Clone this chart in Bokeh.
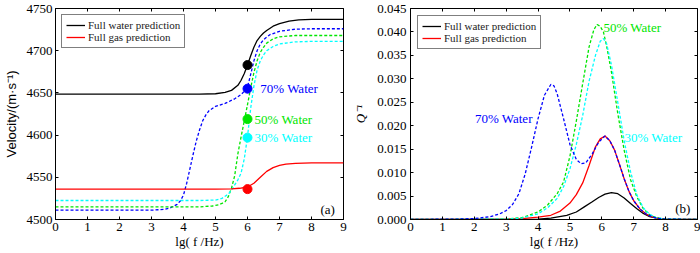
from bokeh.plotting import figure
from bokeh.layouts import row
from bokeh.models import FixedTicker, LinearAxis, Label, Range1d, PrintfTickFormatter
from bokeh.embed import file_html
from bokeh.resources import INLINE

# ---------------- data: panel (a) velocity ----------------
x_ticks = [0, 1, 2, 3, 4, 5, 6, 7, 8, 9]
vel_ticks = [4500, 4550, 4600, 4650, 4700, 4750]
q_ticks = [0.0, 0.005, 0.010, 0.015, 0.020, 0.025, 0.030, 0.035, 0.040, 0.045]

vw_x = [0, 4.5, 5.0, 5.3, 5.5, 5.7, 5.8, 5.9, 6.0, 6.1, 6.2, 6.3, 6.4, 6.5, 6.6, 6.8, 7.0, 7.3, 7.6, 8, 9]
vw_y = [4648.5, 4648.5, 4649, 4650.5, 4653, 4659, 4665, 4673, 4683, 4694, 4704, 4712, 4717, 4721, 4724,
        4729, 4732, 4735, 4736.5, 4737, 4737]

vg_x = [0, 5, 5.5, 5.75, 6.0, 6.2, 6.4, 6.6, 6.8, 7.0, 7.2, 7.5, 8, 9]
vg_y = [4536, 4536, 4536.3, 4537, 4538.5, 4543, 4550, 4557, 4561.5, 4564, 4565.5, 4566.5, 4567, 4567]

v70_x = [0, 3.0, 3.4, 3.6, 3.8, 3.9, 4.0, 4.1, 4.2, 4.3, 4.4, 4.5, 4.6, 4.7, 4.8, 5.0, 5.3, 5.6, 5.8,
         5.9, 6.0, 6.1, 6.2, 6.3, 6.4, 6.5, 6.7, 7.0, 7.5, 8, 9]
v70_y = [4511, 4511, 4512, 4514, 4518, 4522, 4529, 4543, 4560, 4577, 4593, 4606, 4617, 4624, 4629, 4634,
         4637.5, 4643, 4648, 4652, 4657, 4672, 4688, 4700, 4708, 4713, 4719, 4723, 4725.5, 4726, 4726]

v50_x = [0, 4.5, 4.9, 5.1, 5.2, 5.3, 5.4, 5.5, 5.6, 5.7, 5.8, 5.9, 6.0, 6.1, 6.2, 6.3, 6.4, 6.5, 6.6,
         6.8, 7.0, 7.5, 8, 9]
v50_y = [4515, 4515, 4516, 4517.5, 4519, 4521, 4527, 4537, 4552, 4578, 4598, 4617, 4636, 4656, 4674,
         4688, 4698, 4704, 4709, 4714, 4716.5, 4718, 4718, 4718]

v30_x = [0, 4.5, 5.0, 5.2, 5.4, 5.5, 5.6, 5.7, 5.8, 5.9, 6.0, 6.1, 6.2, 6.3, 6.4, 6.5, 6.6, 6.8, 7.0,
         7.5, 8, 9]
v30_y = [4522.5, 4522.5, 4523, 4525, 4530, 4535, 4541, 4547, 4555, 4572, 4598, 4632, 4658, 4677, 4688,
         4695, 4700, 4705, 4708, 4710.5, 4711, 4711]

# measured points at lg f = 6
pt_x = [6, 6, 6, 6, 6]
pt_y = [4683, 4655, 4619, 4597, 4536]
pt_color = ["black", "#0000ff", "#00e600", "#00ffff", "#ff0000"]

# ---------------- data: panel (b) attenuation ----------------
qw_x = [0, 3, 4, 4.4, 4.9, 5.2, 5.45, 5.7, 5.9, 6.1, 6.3, 6.5, 6.7, 6.9, 7.1, 7.3, 7.5, 7.8, 8, 9]
qw_y = [0, 0, 0.0001, 0.0003, 0.0009, 0.0016, 0.0027, 0.0038, 0.0047, 0.0054, 0.00575, 0.0055,
        0.0046, 0.0034, 0.0023, 0.0013, 0.0006, 0.0002, 0.0001, 0]

qg_x = [0, 3, 3.5, 4, 4.4, 4.7, 5.0, 5.2, 5.4, 5.6, 5.8, 5.95, 6.1, 6.25, 6.4, 6.55, 6.7, 6.85, 7.0,
        7.2, 7.4, 7.6, 7.8, 8, 9]
qg_y = [0, 0.0001, 0.0002, 0.0005, 0.0009, 0.0018, 0.0035, 0.0053, 0.0078, 0.0115, 0.0155, 0.0172,
        0.0178, 0.0168, 0.0148, 0.0118, 0.0087, 0.0060, 0.0040, 0.0022, 0.0011, 0.0005, 0.0002, 0.0001, 0]

q70_x = [0, 1.5, 2.0, 2.5, 2.8, 3.0, 3.2, 3.4, 3.6, 3.8, 4.0, 4.2, 4.4, 4.5, 4.6, 4.8, 5.0, 5.2, 5.35,
         5.5, 5.7, 5.9, 6.1, 6.25, 6.4, 6.55, 6.7, 6.85, 7.0, 7.2, 7.4, 7.6, 7.8, 8, 9]
q70_y = [0, 0.0001, 0.0002, 0.0006, 0.0012, 0.0019, 0.0032, 0.0055, 0.0098, 0.0155, 0.0215, 0.0265,
         0.0288, 0.0285, 0.0268, 0.0215, 0.0160, 0.0128, 0.0119, 0.0121, 0.0140, 0.0165, 0.0178,
         0.0168, 0.0148, 0.0118, 0.0087, 0.0060, 0.0040, 0.0022, 0.0011, 0.0005, 0.0002, 0.0001, 0]

q50_x = [0, 3, 3.5, 4, 4.3, 4.6, 4.8, 5.0, 5.2, 5.4, 5.6, 5.75, 5.85, 5.95, 6.05, 6.15, 6.3, 6.5, 6.7,
         6.9, 7.1, 7.3, 7.5, 7.7, 8, 9]
q50_y = [0, 0.0001, 0.0004, 0.0016, 0.0031, 0.0055, 0.0080, 0.0135, 0.0210, 0.0290, 0.0368, 0.0405,
         0.0416, 0.0412, 0.0400, 0.0370, 0.0315, 0.0226, 0.0148, 0.0085, 0.0048, 0.0023, 0.0010,
         0.0004, 0.0001, 0]

q30_x = [0, 3, 3.5, 4, 4.3, 4.6, 4.8, 5.0, 5.2, 5.4, 5.6, 5.8, 5.95, 6.05, 6.15, 6.3, 6.5, 6.7, 6.9,
         7.1, 7.3, 7.5, 7.7, 8, 9]
q30_y = [0, 0.0001, 0.0003, 0.0012, 0.0025, 0.0045, 0.0070, 0.0108, 0.0160, 0.0222, 0.0295, 0.0350,
         0.0380, 0.0386, 0.0375, 0.0330, 0.0250, 0.0168, 0.0102, 0.0052, 0.0025, 0.0011, 0.0004,
         0.0001, 0]

BLACK = "black"
RED = "#ff0000"
BLUE = "#0000ff"
GREEN = "#00e600"
CYAN = "#00ffff"
SERIF = "serif"
DASH = "3 2"


def base_fig(yr, yticks, left_border, right_border):
    p = figure(width=350, height=253, output_backend="svg", toolbar_location=None,
               x_range=Range1d(0, 9), y_range=yr,
               min_border_left=left_border, min_border_right=right_border,
               min_border_top=8, min_border_bottom=34)
    p.background_fill_color = "white"
    p.border_fill_color = "white"
    p.outline_line_color = "black"
    p.outline_line_width = 1
    p.xgrid.visible = False
    p.ygrid.visible = False
    for ax in (p.xaxis[0], p.yaxis[0]):
        ax.major_tick_in = 3
        ax.major_tick_out = 0
        ax.minor_tick_line_color = None
        ax.axis_line_color = "black"
        ax.major_tick_line_color = "black"
        ax.major_label_text_font = SERIF
        ax.major_label_text_font_size = "13px"
        ax.major_label_text_color = "black"
        ax.axis_label_text_font_size = "13px"
        ax.axis_label_text_font_style = "normal"
        ax.axis_label_text_color = "black"
    p.xaxis[0].ticker = FixedTicker(ticks=x_ticks)
    p.yaxis[0].ticker = FixedTicker(ticks=yticks)
    p.xaxis[0].major_label_standoff = 3
    p.xaxis[0].axis_label_standoff = 0
    p.xaxis[0].axis_label = "lg( f /Hz)"
    p.xaxis[0].axis_label_text_font = SERIF
    # mirrored ticks on top / right (labels not drawn)
    top = LinearAxis(ticker=FixedTicker(ticks=x_ticks), major_tick_in=3, major_tick_out=0,
                     minor_tick_line_color=None, major_label_text_font_size="1px",
                     major_label_text_color=None, major_label_standoff=0, axis_line_color=None)
    right = LinearAxis(ticker=FixedTicker(ticks=yticks), major_tick_in=3, major_tick_out=0,
                       minor_tick_line_color=None, major_label_text_font_size="1px",
                       major_label_text_color=None, major_label_standoff=0, axis_line_color=None)
    p.add_layout(top, "above")
    p.add_layout(right, "right")
    return p


# ---------------- panel (a) ----------------
pa = base_fig(Range1d(4500, 4750), vel_ticks, 55, 7)
pa.yaxis[0].axis_label = "Velocity/(m·s⁻¹)"
pa.yaxis[0].axis_label_text_font = "sans-serif"
pa.yaxis[0].major_label_standoff = 3
pa.yaxis[0].axis_label_standoff = 5

pa.line(v70_x, v70_y, line_color=BLUE, line_width=1.3, line_dash=DASH)
pa.line(v50_x, v50_y, line_color=GREEN, line_width=1.3, line_dash=DASH)
pa.line(v30_x, v30_y, line_color=CYAN, line_width=1.3, line_dash=DASH)
pa.line(vw_x, vw_y, line_color=BLACK, line_width=1.3, legend_label="Full water prediction")
pa.line(vg_x, vg_y, line_color=RED, line_width=1.3, legend_label="Full gas prediction")
pa.scatter(pt_x, pt_y, size=9, fill_color=pt_color, line_color=pt_color, marker="circle")

for txt, lx, ly, col in [("70% Water", 6.4, 4655, BLUE), ("50% Water", 6.22, 4619, GREEN),
                         ("30% Water", 6.22, 4597, CYAN), ("(a)", 8.28, 4512, BLACK)]:
    pa.add_layout(Label(x=lx, y=ly, text=txt, text_color=col, text_font=SERIF,
                        text_font_size="13px", text_baseline="middle", text_align="left"))

# ---------------- panel (b) ----------------
pb = base_fig(Range1d(0, 0.045), q_ticks, 59, 3)
pb.yaxis[0].formatter = PrintfTickFormatter(format="%.3f")
pb.yaxis[0].axis_label = "Q⁻¹"
pb.yaxis[0].axis_label_text_font = SERIF
pb.yaxis[0].axis_label_text_font_style = "italic"
pb.yaxis[0].major_label_standoff = 4
pb.yaxis[0].axis_label_standoff = 6

pb.line(qw_x, qw_y, line_color=BLACK, line_width=1.3, legend_label="Full water prediction")
pb.line(qg_x, qg_y, line_color=RED, line_width=1.3, legend_label="Full gas prediction")
pb.line(q50_x, q50_y, line_color=GREEN, line_width=1.3, line_dash=DASH)
pb.line(q30_x, q30_y, line_color=CYAN, line_width=1.3, line_dash=DASH)
pb.line(q70_x, q70_y, line_color=BLUE, line_width=1.3, line_dash=DASH)

for txt, lx, ly, col in [("70% Water", 2.02, 0.0216, BLUE), ("50% Water", 6.05, 0.0410, GREEN),
                         ("30% Water", 6.71, 0.0175, CYAN), ("(b)", 8.3, 0.0024, BLACK)]:
    pb.add_layout(Label(x=lx, y=ly, text=txt, text_color=col, text_font=SERIF,
                        text_font_size="13px", text_baseline="middle", text_align="left"))

for p, m in ((pa, 6), (pb, 7)):
    lg = p.legend[0]
    lg.location = "top_left"
    lg.margin = m
    lg.padding = 4
    lg.spacing = 0
    lg.label_height = 12
    lg.glyph_height = 12
    lg.glyph_width = 19
    lg.label_standoff = 3
    lg.label_text_font = SERIF
    lg.label_text_font_size = "11px"
    lg.label_text_color = "#222222"
    lg.border_line_color = "black"
    lg.border_line_width = 1
    lg.background_fill_color = "white"
    lg.background_fill_alpha = 1

layout = row(pa, pb, spacing=0)
open("out.html", "w").write(file_html(layout, INLINE))
